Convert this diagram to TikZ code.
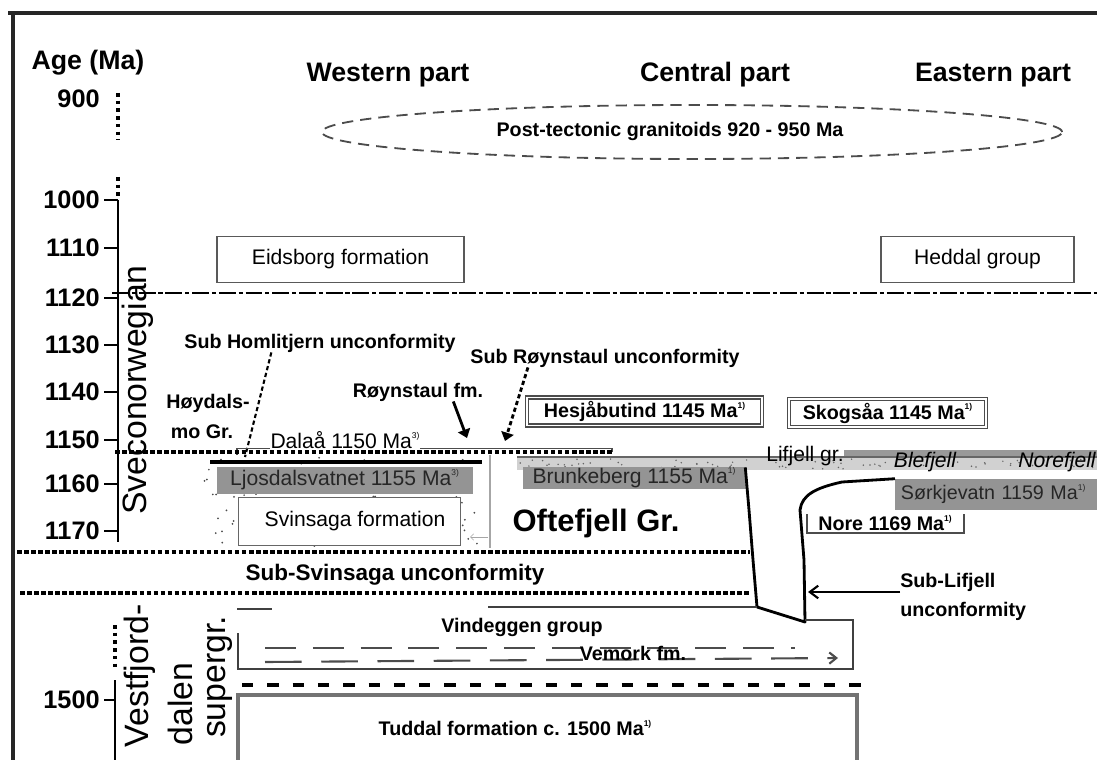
\documentclass[tikz,border=0pt]{standalone}
\usepackage{fontspec}
\setmainfont{Liberation Sans}
\usetikzlibrary{arrows.meta,shapes.geometric}

\newcommand{\fs}[1]{\fontsize{#1}{#1}\selectfont}
\newcommand{\refn}[1]{\raisebox{0.9ex}{\fs{6}#1}}

\begin{document}
\begin{tikzpicture}[x=0.025cm,y=-0.025cm,
  hd/.style={font=\bfseries\fs{19},inner sep=0pt},
  tk/.style={font=\bfseries\fs{18},anchor=east,inner sep=0pt},
  rg/.style={font=\fs{15},inner sep=0pt},
  it/.style={font=\itshape\fs{15},inner sep=0pt},
  bd/.style={font=\bfseries\fs{14},inner sep=0pt},
  vt/.style={font=\fs{24},rotate=90,inner sep=0pt},
  frm/.style={draw=black!65,line width=1.2pt,minimum height=1.15cm},
  grey/.style={fill=black!42,draw=black!42,text=black!85},
  agebox/.style={draw=black!70,line width=1pt,double=white,double distance=1.2pt,minimum height=0.7cm},
  sq/.style={line width=2.8pt,dash pattern=on 3.2pt off 1.8pt},
  unc/.style={line width=2pt,line join=round}]

\useasboundingbox (0,0) rectangle (1097,760);

% frame
\draw[line width=3pt,black!85] (8,13) -- (1097,13) (13,13) -- (13,760);

% age scale
\node[hd] (age) at (88,63) {Age (Ma)};
\node[tk] (a900) at (100,99) {900};
\foreach \lab/\yy in {1000/200,1110/248,1120/298,1130/345,1140/392,1150/440,1160/484,1170/531}
  {\node[tk] (a\lab) at (100,\yy) {\lab};
   \draw[line width=1.5pt] (104,\yy) -- (118,\yy);}
\draw[line width=2.5pt,dash pattern=on 2.5pt off 3pt] (118,93) -- (118,140) (118,177) -- (118,200);
\draw[line width=1.8pt] (118,200) -- (118,542);
\node[vt] (sveco) at (138,390) {Sveconorwegian};

\node[tk] (a1500) at (100,700) {1500};
\draw[line width=1.5pt] (104,700) -- (115,700);
\draw[line width=2.5pt,dash pattern=on 2.5pt off 3pt] (115,625) -- (115,670);
\draw[line width=1.8pt] (115,680) -- (115,760);
\node[vt] (vest) at (140,676) {Vestfjord-};
\node[vt] (dalen) at (180,704) {dalen};
\node[vt] (super) at (220,677) {supergr.};

% headers
\node[hd] (west) at (388,75) {Western part};
\node[hd] (cent) at (715,75) {Central part};
\node[hd] (east) at (993,75) {Eastern part};

% granitoids
\node[ellipse,draw=black!70,line width=1.3pt,dash pattern=on 8pt off 5pt,minimum width=18.5cm,minimum height=1.35cm] (granit) at (692,132) {};
\node[bd] (granittxt) at (670,131) {Post-tectonic granitoids 920 - 950 Ma};

% upper units
\node[frm,rg,minimum width=6.175cm] (eids) at (340.5,259.5) {Eidsborg formation};
\node[frm,rg,minimum width=4.825cm] (hedd) at (977.5,259.5) {Heddal group};
\draw[line width=1.5pt,dash pattern=on 12pt off 2pt on 3pt off 2pt] (112,293) -- (1097,293);

% Hoydalsmo group
\node[bd] (homli) at (320,343) {Sub Homlitjern unconformity};
\node[bd] (roynunc) at (605,358) {Sub Røynstaul unconformity};
\node[bd] (royn) at (418,392) {Røynstaul fm.};
\node[bd] (hoyd) at (208,403) {Høydals-};
\node[bd] (hoydmo) at (202,432) {mo Gr.};
\coordinate (homlitip) at (245,457);
\coordinate (royntip) at (467,438);
\coordinate (roynunctip) at (505,441);
\draw[line width=1.5pt,dash pattern=on 3pt off 2pt] (homli.-169) -- (homlitip);
\draw[-{Triangle[width=9pt,length=6pt]},line width=2pt] (royn.-15) -- (royntip);
\draw[-{Triangle[width=9pt,length=6pt]},line width=2pt,dash pattern=on 3pt off 2pt] (roynunc.-173) -- (roynunctip);

\node[rg] (dalaa) at (345,440) {Dalaå 1150 Ma\refn{3)}};
\draw[black!70,line width=1pt] (237,455) |- (dalaa.base west);
\draw[black!70,line width=1pt] (dalaa.base east) -| (612,452);

% stippled area
\pgfmathsetseed{3}
\foreach \k in {1,...,90}{
  \pgfmathsetmacro{\dx}{204+282*rnd}
  \pgfmathsetmacro{\dy}{456+90*rnd}
  \fill[black!70] (\dx,\dy) circle[radius=0.7pt];}
\draw[black!35,line width=1.5pt] (490,455) -- (490,548);
\draw[black!35,-{Straight Barb}] (488,537) -- (470,537);
\draw[sq] (115,452) -- (612,452);
\draw[line width=3pt] (210,462) -- (482,462);
\node[grey,rg,minimum width=6.375cm,minimum height=0.65cm] (ljos) at (344.5,480) {Ljosdalsvatnet 1155 Ma\refn{3)}};
\node[draw=black!60,fill=white,rg,minimum width=5.55cm,minimum height=1.2cm] (svin) at (349,521) {\hspace{0.3cm}Svinsaga formation};

\node[font=\bfseries\fs{22},inner sep=0pt] (ofte) at (596,523) {Oftefjell Gr.};

% central and eastern ages
\node[agebox,bd,minimum width=5.875cm] (hesja) at (644.5,411.5) {Hesjåbutind 1145 Ma\refn{1)}};
\node[agebox,bd,minimum width=4.925cm] (skog) at (887.5,413) {Skogsåa 1145 Ma\refn{1)}};

% Lifjell group
\fill[black!18] (517,457) rectangle (1097,470);
\fill[black!40] (844,450) rectangle (1097,457);
\draw[black!60,line width=1pt] (517,457) -- (1097,457);
\foreach \k in {1,...,80}{
  \pgfmathsetmacro{\dx}{517+580*rnd}
  \pgfmathsetmacro{\dy}{459+10*rnd}
  \fill[black!60] (\dx,\dy) circle[radius=0.6pt];}
\node[rg] (lifj) at (805,456) {Lifjell gr.};
\node[it] (blef) at (925,462) {Blefjell};
\node[it,anchor=west] (noref) at (1018,462) {Norefjell};

\node[grey,rg,minimum width=5.55cm,minimum height=0.5cm] (brunk) at (634,478) {Brunkeberg 1155 Ma\refn{1)}};
\node[grey,font=\fs{14},inner sep=0pt,anchor=west,inner xsep=4pt,text width=4.85cm,align=left,minimum height=0.75cm] (sork) at (895,494) {Sørkjevatn 1159 Ma\refn{1)}};
\node[bd] (nore) at (885,523) {Nore 1169 Ma\refn{1)}};
\draw[black!70,line width=1.2pt] (807,514) -- (807,533) -- (964,533) -- (964,514);

% Sub-Lifjell unconformity
\draw[unc] (brunk.north east) -- (749,510) -- (753,560) -- (757,607) -- (805,622)
  -- (804,560) -- (800,510) .. controls (802,495) and (815,488) .. (842,482) -- (sork.north west);
\node[font=\bfseries\fontsize{14}{21}\selectfont,inner sep=0pt,anchor=west,align=left] (sublif) at (900,597) {Sub-Lifjell\\unconformity};
\draw[-{Straight Barb[length=6pt,width=9pt]},line width=1.5pt] (sublif.west |- 0,592) -- (808,592);

% Sub-Svinsaga unconformity
\draw[sq] (17,552) -- (750,552);
\draw[sq,line width=2.2pt] (20,593) -- (750,593);
\node[font=\bfseries\fs{16},inner sep=0pt] (subsvin) at (395,575) {Sub-Svinsaga unconformity};

% Vindeggen group
\draw[black!75,line width=1.5pt] (237,609) -- (272,609);
\draw[black!75,line width=1.5pt] (488,607) -- (757,607);
\draw[black!75,line width=1.8pt] (238,633) -- (238,669) -- (853,669) -- (853,620) -- (805,620);
\draw[black!70,line width=1.5pt,dash pattern=on 22pt off 12pt] (265,648) -- (795,648);
\draw[black!70,line width=1.5pt,dash pattern=on 26pt off 14pt,-{Straight Barb[length=5pt,width=8pt]}] (265,662) -- (838,658);
\node[bd] (vind) at (522,627) {Vindeggen group};
\node[bd] (vemork) at (633,653) {Vemork fm.};

% Tuddal formation
\draw[line width=3.5pt,dash pattern=on 8pt off 10pt] (242,685) -- (864,685);
\draw[black!55,line width=2.2pt] (238,760) -- (238,695) -- (857,695) -- (857,760);
\node[bd] (tudd) at (515,728) {Tuddal formation c. 1500 Ma\refn{1)}};
\end{tikzpicture}
\end{document}
